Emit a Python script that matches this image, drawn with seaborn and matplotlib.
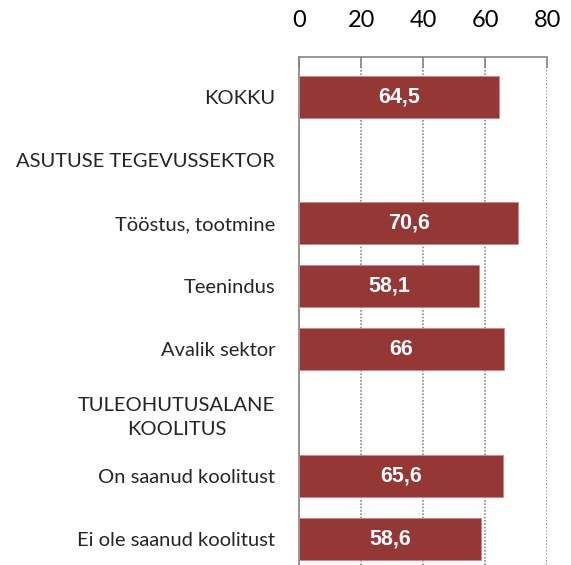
import numpy as np
import pandas as pd
import matplotlib
matplotlib.use('Agg')
import matplotlib.pyplot as plt
import seaborn as sns

categories = ['KOKKU', 'ASUTUSE TEGEVUSSEKTOR', 'Tööstus, tootmine', 'Teenindus',
              'Avalik sektor', 'TULEOHUTUSALANE\nKOOLITUS', 'On saanud koolitust',
              'Ei ole saanud koolitust']
values = [64.5, np.nan, 70.6, 58.1, 66.0, np.nan, 65.6, 58.6]
x_ticks = [0, 20, 40, 60, 80]

df = pd.DataFrame({'kategooria': categories, 'vaartus': values})

sns.set_style('white')
plt.rcParams['font.family'] = ['Lato', 'DejaVu Sans']

fig = plt.figure(figsize=(5.71, 5.65), dpi=100)
ax = fig.add_axes([0.5236, 0.0, 0.9588 - 0.5236, 0.899])

sns.barplot(data=df, y='kategooria', x='vaartus', order=categories, orient='h',
            color='#953735', saturation=1, width=0.665, edgecolor='#c98a88',
            linewidth=0.6, ax=ax, zorder=3)

# value labels inside bars
for p in ax.patches:
    w = p.get_width()
    if np.isnan(w) or w == 0:
        continue
    lab = f"{w:g}".replace('.', ',')
    ax.text(p.get_x() + w / 2, p.get_y() + p.get_height() / 2, lab,
            ha='center', va='center', color='white', fontweight='bold',
            fontsize=15.5, family=['Liberation Sans', 'DejaVu Sans'], zorder=4)

ax.set_xlim(0, 80)
ax.set_ylim(7.41, -0.625)
ax.set_xticks(x_ticks)
ax.xaxis.tick_top()
ax.tick_params(axis='x', direction='in', length=8, width=1.2, color='#868686',
               pad=19, labelsize=17, labelcolor='black')
ax.tick_params(axis='y', length=0, pad=17, labelsize=14.5)
for t in ax.get_yticklabels():
    t.set_multialignment('center')
    t.set_linespacing(1.5)

ax.set_xlabel('')
ax.set_ylabel('')
ax.grid(axis='x', color='#8c8c8c', linestyle=(0, (1, 1)), linewidth=1.2, zorder=0)
ax.set_axisbelow(True)

for s in ['right', 'bottom']:
    ax.spines[s].set_visible(False)
ax.spines['top'].set_color('#868686')
ax.spines['top'].set_linewidth(1.2)
ax.spines['left'].set_color('#868686')
ax.spines['left'].set_linewidth(1.2)

fig.savefig('out.png', dpi=100)
